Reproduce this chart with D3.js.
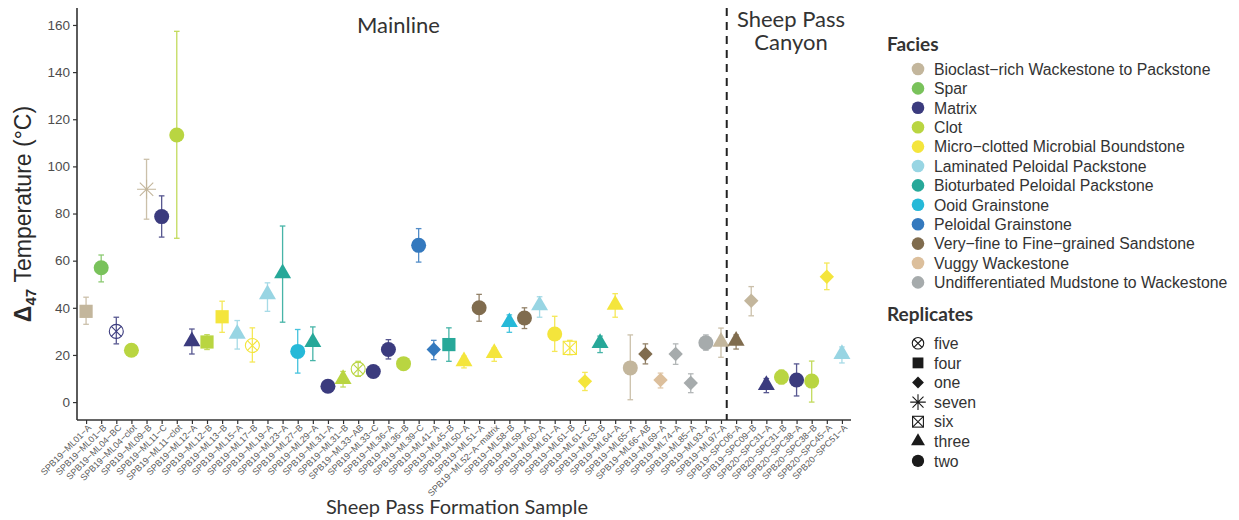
<!DOCTYPE html>
<html>
<head>
<meta charset="utf-8">
<script src="https://cdn.jsdelivr.net/npm/d3@7"></script>
<style>
  body { margin: 0; background: #fff; }
  svg { display: block; }
</style>
</head>
<body>
<div id="chart"></div>
<script>
// sample ids, facies, replicate count and Δ47 temperature with error range
var samples = ["SPB19-ML01-A","SPB19-ML01-B","SPB19-ML04-BC","SPB19-ML04-clot","SPB19-ML09-B","SPB19-ML11-C","SPB19-ML11-clot",
  "SPB19-ML12-A","SPB19-ML12-B","SPB19-ML13-B","SPB19-ML15-A","SPB19-ML17-B","SPB19-ML19-A","SPB19-ML23-A","SPB19-ML27-B",
  "SPB19-ML29-A","SPB19-ML31-A","SPB19-ML31-B","SPB19-ML33-AB","SPB19-ML33-C","SPB19-ML36-A","SPB19-ML36-B","SPB19-ML39-C",
  "SPB19-ML41-A","SPB19-ML45-B","SPB19-ML50-A","SPB19-ML51-A","SPB19-ML52-A-matrix","SPB19-ML58-B","SPB19-ML59-A","SPB19-ML60-A",
  "SPB19-ML61-A","SPB19-ML61-B","SPB19-ML61-C","SPB19-ML63-B","SPB19-ML64-A","SPB19-ML65-A","SPB19-ML66-AB","SPB19-ML69-A",
  "SPB19-ML74-A","SPB19-ML85-A","SPB19-ML93-A","SPB19-ML97-A","SPB19-SPC06-A","SPB19-SPC09-B","SPB20-SPC31-A","SPB20-SPC31-B",
  "SPB20-SPC38-A","SPB20-SPC38-B","SPB20-SPC45-A","SPB20-SPC51-A"];

var faciesNames = ["Bioclast-rich Wackestone to Packstone","Spar","Matrix","Clot","Micro-clotted Microbial Boundstone",
  "Laminated Peloidal Packstone","Bioturbated Peloidal Packstone","Ooid Grainstone","Peloidal Grainstone",
  "Very-fine to Fine-grained Sandstone","Vuggy Wackestone","Undifferentiated Mudstone to Wackestone"];
var faciesColors = ["#c3b69c","#79c25b","#3b3b7e","#b9d541","#f4e53c","#98d5e3","#27a899","#26b9d8","#3479be","#806c4e","#dcbf9c","#a6abac"];

var replicateNames = ["five","four","one","seven","six","three","two"];

// facies index per sample
var sampleFacies = [0,1,2,3,0,2,3, 2,3,4,5,4,5,6,7, 6,2,3,3,2,2,3,8, 8,6,4,9,4,7,9,5, 4,4,4,6,4,0,9,10, 11,11,11,0,9,0,2,3, 2,3,4,5];
var sampleReps = ["four","two","five","two","seven","two","two", "three","four","four","three","five","three","three","two",
  "three","two","three","five","two","two","two","two", "one","four","three","two","three","three","two","three",
  "two","six","one","three","three","two","one","one", "one","one","two","three","three","one","three","two",
  "two","two","one","three"];

var temps = [38.5,57,30,22,90.3,78.7,113.3, 25.8,25.5,36.2,29,24,45.7,54.6,21.5, 25.4,6.7,9.8,14,13,22.3,16.3,66.5,
  22.3,24.4,17.3,40,20.8,33.9,35.7,41, 28.9,23,8.8,25,41.3,14.5,20.4,9.4, 20.4,8.1,25.2,25.6,26,43,7.2,10.6,
  9.4,8.9,53.2,20.4];
var errLow = [33,51,24.7,null,77.6,70,69.5, 20.4,22.3,29.6,22.5,17,38.5,33.9,12.3, 17.6,null,6.4,10.9,null,18.3,null,59.4,
  18,17.3,14.5,34.3,17.3,29.6,31.2,36, 21.5,20.1,4.9,21,36,1,16.2,6, 16,4,22,19,22.5,36.6,4,7.7,
  2.6,0,47.7,16.6];
var errHigh = [44.5,62.4,36,null,103,87.5,157.3, 31,28.6,42.8,34.6,31.5,50.6,74.7,30.8, 31.9,null,13,17.3,null,26.5,null,73.6,
  26.2,31.5,19.5,45.7,23,37,40,44.7, 36.4,26.2,12.6,28,46,28.5,24.7,12.3, 24.7,12,28.5,31.4,28.5,49,10,13.6,
  16.2,17.4,59,23.4];

var yTicks = [0,20,40,60,80,100,120,140,160];
var splitAfter = "SPB19-ML97-A";

var minus = function(s) { return s.replace(/-/g, "\u2212"); };

var W = 1239, H = 520;
var plotL = 77, plotR = 851, plotT = 8, plotB = 420;

var svg = d3.select("#chart").append("svg").attr("width", W).attr("height", H)
  .style("font-family", "'Liberation Sans', Arial, sans-serif");

var x = d3.scalePoint().domain(samples).range([plotL, plotR]).padding(0.6);
var y = d3.scaleLinear().domain([-7.6, 167.2]).range([plotB, plotT]);
var step = x.step();

// axes
var yAxis = d3.axisLeft(y).tickValues(yTicks).tickSize(4).tickPadding(3);
var gy = svg.append("g").attr("transform", "translate(" + plotL + ",0)").call(yAxis);
gy.select(".domain").attr("stroke", "#333").attr("stroke-width", 1.6).attr("d", "M0," + plotT + "V" + plotB);
gy.selectAll(".tick line").attr("stroke", "#333").attr("stroke-width", 1.2);
gy.selectAll(".tick text").attr("fill", "#4d4d4d").style("font-size", "13.5px");

var xAxis = d3.axisBottom(x).tickSize(4).tickPadding(2);
var gx = svg.append("g").attr("transform", "translate(0," + plotB + ")").call(xAxis);
gx.select(".domain").attr("stroke", "#333").attr("stroke-width", 1.6).attr("d", "M" + plotL + ",0H" + plotR);
gx.selectAll(".tick line").attr("stroke", "#333").attr("stroke-width", 1.2);
gx.selectAll(".tick text")
  .text(d => minus(d))
  .attr("fill", "#5a5a5a").style("font-size", "9px")
  .attr("text-anchor", "end")
  .attr("transform", "translate(3,6) rotate(-45)")
  .attr("dy", "0.35em").attr("y", 0).attr("x", 0);

// divider between Mainline and Sheep Pass Canyon
var divX = x(splitAfter) + step * 0.38;
svg.append("line").attr("x1", divX).attr("x2", divX).attr("y1", plotT).attr("y2", plotB)
  .attr("stroke", "#222").attr("stroke-width", 2).attr("stroke-dasharray", "8,6");

var titleFont = "Lato, 'Open Sans', sans-serif";
svg.append("text").attr("x", x("SPB19-ML36-A") + 10).attr("y", 33).attr("text-anchor", "middle")
  .style("font-family", titleFont).style("font-size", "22px").attr("fill", "#333").text("Mainline");
svg.append("text").attr("x", 791).attr("y", 27).attr("text-anchor", "middle")
  .style("font-family", titleFont).style("font-size", "22px").attr("fill", "#333").text("Sheep Pass");
svg.append("text").attr("x", 791).attr("y", 50).attr("text-anchor", "middle")
  .style("font-family", titleFont).style("font-size", "22px").attr("fill", "#333").text("Canyon");

// axis titles
svg.append("text").attr("x", 457).attr("y", 514).attr("text-anchor", "middle")
  .style("font-family", titleFont).style("font-size", "20px").attr("fill", "#333").text("Sheep Pass Formation Sample");

var yt = svg.append("text").attr("transform", "translate(31," + ((plotT + plotB) / 2) + ") rotate(-90)")
  .attr("text-anchor", "middle").style("font-size", "23px").attr("fill", "#2a2a2a");
yt.append("tspan").style("font-weight", "bold").text("\u0394");
yt.append("tspan").attr("dy", 5).style("font-size", "15px").style("font-weight", "bold").text("47");
yt.append("tspan").attr("dy", -5).text(" Temperature (\u00b0C)");

// shape drawing
function drawShape(g, rep, color, s) {
  var k = s || 1;
  if (rep === "two") {
    g.append("circle").attr("r", 7.5 * k).attr("fill", color);
  } else if (rep === "four") {
    var a = 6.6 * k;
    g.append("rect").attr("x", -a).attr("y", -a).attr("width", 2 * a).attr("height", 2 * a).attr("fill", color);
  } else if (rep === "one") {
    var b = 7.2 * k;
    g.append("path").attr("d", "M0," + (-b) + "L" + b + ",0L0," + b + "L" + (-b) + ",0Z").attr("fill", color);
  } else if (rep === "three") {
    var r = 9.8 * k, xc = r * 0.866, yc = r * 0.5;
    g.append("path").attr("d", "M0," + (-r) + "L" + xc + "," + yc + "L" + (-xc) + "," + yc + "Z").attr("fill", color);
  } else if (rep === "five") {
    var c = 7 * k, d = c * 0.707;
    g.append("circle").attr("r", c).attr("fill", "none").attr("stroke", color).attr("stroke-width", 1.1);
    g.append("path").attr("d", "M" + (-d) + "," + (-d) + "L" + d + "," + d + "M" + d + "," + (-d) + "L" + (-d) + "," + d)
      .attr("stroke", color).attr("stroke-width", 1.1);
  } else if (rep === "six") {
    var e = 6.6 * k;
    g.append("rect").attr("x", -e).attr("y", -e).attr("width", 2 * e).attr("height", 2 * e)
      .attr("fill", "none").attr("stroke", color).attr("stroke-width", 1.1);
    g.append("path").attr("d", "M" + (-e) + "," + (-e) + "L" + e + "," + e + "M" + e + "," + (-e) + "L" + (-e) + "," + e)
      .attr("stroke", color).attr("stroke-width", 1.1);
  } else if (rep === "seven") {
    var f = 9.5 * k, q = f * 0.707;
    g.append("path").attr("d", "M" + (-f) + ",0H" + f + "M0," + (-f) + "V" + f +
      "M" + (-q) + "," + (-q) + "L" + q + "," + q + "M" + q + "," + (-q) + "L" + (-q) + "," + q)
      .attr("stroke", color).attr("stroke-width", 1.1).attr("fill", "none");
  }
}

var rows = samples.map((s, i) => ({
  sample: s, color: faciesColors[sampleFacies[i]], rep: sampleReps[i],
  t: temps[i], lo: errLow[i], hi: errHigh[i]
}));

// error bars
var eb = svg.append("g").selectAll("g").data(rows.filter(d => d.lo !== null)).enter().append("g")
  .attr("stroke", d => d.color).attr("stroke-width", 1.3).attr("opacity", 0.85);
eb.append("line").attr("x1", d => x(d.sample)).attr("x2", d => x(d.sample))
  .attr("y1", d => y(d.lo)).attr("y2", d => y(d.hi));
eb.append("line").attr("x1", d => x(d.sample) - 2.8).attr("x2", d => x(d.sample) + 2.8)
  .attr("y1", d => y(d.lo)).attr("y2", d => y(d.lo));
eb.append("line").attr("x1", d => x(d.sample) - 2.8).attr("x2", d => x(d.sample) + 2.8)
  .attr("y1", d => y(d.hi)).attr("y2", d => y(d.hi));

// points
svg.append("g").selectAll("g").data(rows).enter().append("g")
  .attr("transform", d => "translate(" + x(d.sample) + "," + y(d.t) + ")")
  .each(function(d) { drawShape(d3.select(this), d.rep, d.color); });

// legends
var lg = svg.append("g");
lg.append("text").attr("x", 887).attr("y", 51).style("font-family", titleFont).style("font-size", "19px")
  .style("font-weight", "bold").attr("fill", "#333").text("Facies");
var fItems = lg.selectAll(".fi").data(faciesNames).enter().append("g")
  .attr("transform", (d, i) => "translate(918," + (69 + i * 19.4) + ")");
fItems.append("circle").attr("r", 6.3).attr("fill", (d, i) => faciesColors[i]);
fItems.append("text").attr("x", 16).attr("dy", "0.36em").style("font-size", "15.8px").attr("fill", "#333")
  .text(d => minus(d));

lg.append("text").attr("x", 887).attr("y", 321).style("font-family", titleFont).style("font-size", "19px")
  .style("font-weight", "bold").attr("fill", "#333").text("Replicates");
var rItems = lg.selectAll(".ri").data(replicateNames).enter().append("g")
  .attr("transform", (d, i) => "translate(918," + (343.3 + i * 19.6) + ")");
rItems.each(function(d) { drawShape(d3.select(this), d, "#1a1a1a", 0.82); });
rItems.append("text").attr("x", 16).attr("dy", "0.36em").style("font-size", "15.8px").attr("fill", "#333").text(d => d);
</script>
</body>
</html>
